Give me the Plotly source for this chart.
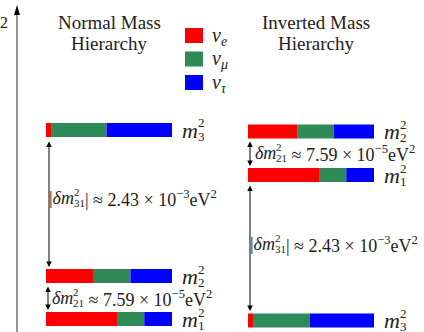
import plotly.graph_objects as go

W, H = 424, 332

# ---- data: flavour fractions (nu_e, nu_mu, nu_tau) of each mass state ----
states = ["m3", "m2", "m1", "m2", "m1", "m3"]          # 3 normal, then 3 inverted
hierarchy = ["normal"] * 3 + ["inverted"] * 3
nu_e = [0.04, 0.38, 0.57, 0.39, 0.57, 0.04]
nu_mu = [0.44, 0.29, 0.21, 0.29, 0.21, 0.45]
nu_tau = [0.52, 0.33, 0.22, 0.32, 0.22, 0.51]
flavours = ["e", "μ", "τ"]
colors = ["#ff0000", "#2e8b57", "#0000ff"]
dm31_text = "2.43 × 10<sup>−3</sup>eV<sup>2</sup>"
dm21_text = "7.59 × 10<sup>−5</sup>eV<sup>2</sup>"

# ---- layout constants (pixels) ----
bar_x0 = {"normal": 46, "inverted": 248}
bar_len = 126
level_y = [130, 276, 319, 131.5, 175, 320.5]
bar_h = 14

def P(x):
    return x / W

def Q(y):
    return 1 - y / H

fig = go.Figure()

xmin = -bar_x0["normal"] / bar_len
xmax = (W - bar_x0["normal"]) / bar_len
offs = [(bar_x0[h] - bar_x0["normal"]) / bar_len for h in hierarchy]

cum = list(offs)
for name, vals, col in zip(flavours, [nu_e, nu_mu, nu_tau], colors):
    fig.add_trace(go.Bar(
        orientation="h", x=vals, y=level_y, base=list(cum), width=bar_h,
        marker=dict(color=col, line=dict(width=0)), name="ν" + name,
        hoverinfo="skip", showlegend=False))
    cum = [c + v for c, v in zip(cum, vals)]

FONT = "Liberation Serif, serif"
ann = []

def text(x, y, s, size=15, anchor="left", italic=False):
    if italic:
        s = "<i>" + s + "</i>"
    ann.append(dict(x=P(x), y=Q(y), xref="paper", yref="paper", text=s,
                    showarrow=False, xanchor=anchor, yanchor="middle",
                    borderpad=0,
                    font=dict(family=FONT, size=size, color="#222")))

def mlabel(x, y, idx):
    text(x, y, "m", size=22, italic=True)
    text(x + 16, y - 7, "2", size=13)
    text(x + 16, y + 6, idx, size=13)

def dlabel(x, y, idx, val, bars):
    pre = "|<i>δm</i>" if bars else "<i>δm</i>"
    w = 25 if bars else 21
    text(x, y, pre, size=18)
    text(x + w, y - 6, "2", size=11)
    text(x + w, y + 5, idx, size=11)
    post = ("| ≈ " if bars else " ≈ ") + val
    text(x + w + (11 if len(idx) > 1 else 7), y, post, size=18)

# titles
for cx, t in [(109, "Normal Mass"), (316, "Inverted Mass")]:
    text(cx, 22, t, size=19, anchor="center")
    text(cx, 44, "Hierarchy", size=19, anchor="center")

# left "2" (cut-off axis label)
text(-1, 22, "2", size=16)

# legend
shapes = []
for i, (name, col) in enumerate(zip(flavours, colors)):
    y0 = 28 + i * 23.5
    shapes.append(dict(type="rect", xref="paper", yref="paper",
                       x0=P(185), x1=P(203), y0=Q(y0), y1=Q(y0 + 15),
                       fillcolor=col, line=dict(width=0)))
    text(211, y0 + 8, "<i>ν</i><sub><i>" + name + "</i></sub>", size=20)

# mass labels
for st, h, y in zip(states, hierarchy, level_y):
    mlabel(bar_x0[h] + bar_len + 9, y, st[1])

# vertical axis
shapes.append(dict(type="line", xref="paper", yref="paper",
                   x0=P(17), x1=P(17), y0=Q(332), y1=Q(13),
                   line=dict(color="#8a8a8a", width=1.8)))
shapes.append(dict(type="path", xref="paper", yref="paper",
                   path=f"M {P(14)} {Q(15)} L {P(20)} {Q(15)} L {P(17)} {Q(5)} Z",
                   fillcolor="black", line=dict(width=0)))

def darrow(x, y0, y1):
    ann.append(dict(x=P(x), y=Q(y1), xref="paper", yref="paper", ax=0,
                    ay=y0 - y1, axref="pixel", ayref="pixel", text="",
                    showarrow=True, arrowhead=2, startarrowhead=2,
                    arrowside="end+start", arrowsize=1.1, startarrowsize=1.1,
                    arrowwidth=1, arrowcolor="black", standoff=0, startstandoff=0))

darrow(49, 140, 267)
darrow(48, 285, 310)
darrow(250, 140, 166)
darrow(250, 184, 311)

dlabel(48, 198, "31", dm31_text, True)
dlabel(51, 298, "21", dm21_text, False)
dlabel(254, 153, "21", dm21_text, False)
dlabel(249, 244, "31", dm31_text, True)

fig.update_layout(
    width=W, height=H, margin=dict(l=0, r=0, t=0, b=0),
    paper_bgcolor="white", plot_bgcolor="white", barmode="overlay",
    xaxis=dict(range=[xmin, xmax], visible=False, fixedrange=True),
    yaxis=dict(range=[H, 0], visible=False, fixedrange=True),
    annotations=ann, shapes=shapes, showlegend=False)

fig.write_html("out.html")
